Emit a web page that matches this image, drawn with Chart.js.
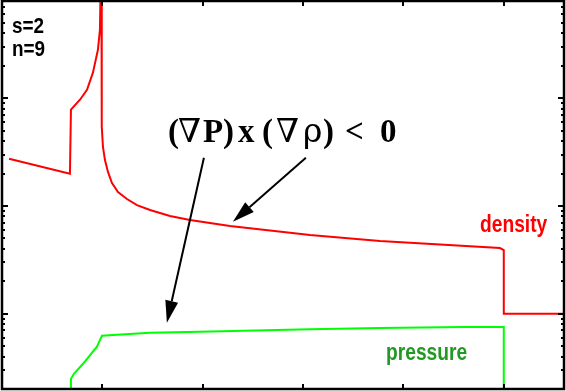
<!DOCTYPE html>
<html><head><meta charset="utf-8">
<script src="https://cdn.jsdelivr.net/npm/chart.js@4/dist/chart.umd.min.js"></script>
<style>html,body{margin:0;padding:0;background:#fff;overflow:hidden}</style>
</head><body>
<canvas id="c" width="566" height="391"></canvas>
<script>
// ---- data (x in arbitrary units, y logarithmic) ----
const densityX = [0.07, 0.677, 0.687, 0.777, 0.847, 0.906, 0.956, 0.976, 0.99, 0.994, 0.994, 1.006, 1.026, 1.056, 1.096, 1.156, 1.245, 1.345, 1.475, 1.674, 1.873, 2.272, 3.069, 3.766, 4.962, 5.0, 5.0, 5.6];
const densityY = [27.5, 19.9, 78.4, 97, 120, 173, 283, 433, 3000, 3000, 54.5, 35.3, 26.7, 20.7, 16.3, 13.5, 11.6, 10.2, 9.18, 8.07, 7.41, 6.52, 5.38, 4.73, 4.07, 3.90, 1.0, 1.0];
const pressureX = [0.687, 0.687, 0.717, 0.807, 0.946, 0.996, 1.106, 1.474, 1.972, 3.068, 3.765, 4.592, 4.99, 5.0, 5.0];
const pressureY = [0.15, 0.249, 0.277, 0.343, 0.494, 0.625, 0.634, 0.666, 0.681, 0.716, 0.737, 0.752, 0.752, 0.752, 0.15];
const xTicks = [0, 1, 2, 3, 4, 5];
const yMajorTicks = [1, 10, 100];
const yMinorTicks = [0.2,0.3,0.4,0.5,0.6,0.7,0.8,0.9, 2,3,4,5,6,7,8,9, 20,30,40,50,60,70,80,90, 200,300,400,500,600,700,800];
const arrowFrom = [[2.012, 28.1], [3.028, 28.1]];
const arrowTo   = [[1.643, 0.825], [2.301, 7.15]];

const toPts = (xs, ys) => xs.map((x, i) => ({x: x, y: ys[i]}));

const decor = {
  id: 'decor',
  afterDatasetsDraw(chart) {
    const ctx = chart.ctx, a = chart.chartArea;
    const xs = chart.scales.x, ys = chart.scales.y;
    ctx.save();
    // arrows
    ctx.strokeStyle = '#000'; ctx.fillStyle = '#000'; ctx.lineWidth = 2;
    for (let i = 0; i < arrowFrom.length; i++) {
      const x0 = xs.getPixelForValue(arrowFrom[i][0]), y0 = ys.getPixelForValue(arrowFrom[i][1]);
      const x1 = xs.getPixelForValue(arrowTo[i][0]), y1 = ys.getPixelForValue(arrowTo[i][1]);
      const ang = Math.atan2(y1 - y0, x1 - x0), L = 22, W = 6.5;
      const bx = x1 - L * Math.cos(ang), by = y1 - L * Math.sin(ang);
      ctx.beginPath(); ctx.moveTo(x0, y0); ctx.lineTo(bx, by); ctx.stroke();
      ctx.beginPath(); ctx.moveTo(x1, y1);
      ctx.lineTo(bx + W * Math.sin(ang), by - W * Math.cos(ang));
      ctx.lineTo(bx - W * Math.sin(ang), by + W * Math.cos(ang));
      ctx.closePath(); ctx.fill();
    }
    // frame
    ctx.lineWidth = 2.5; ctx.strokeStyle = '#000';
    ctx.strokeRect(a.left, a.top, a.right - a.left, a.bottom - a.top);
    // ticks
    ctx.lineWidth = 2;
    ctx.beginPath();
    xTicks.forEach(v => {
      const p = Math.round(xs.getPixelForValue(v));
      ctx.moveTo(p, a.bottom); ctx.lineTo(p, a.bottom - 5);
      ctx.moveTo(p, a.top); ctx.lineTo(p, a.top + 5);
    });
    yMajorTicks.forEach(v => {
      const p = Math.round(ys.getPixelForValue(v));
      ctx.moveTo(a.left, p); ctx.lineTo(a.left + 6, p);
      ctx.moveTo(a.right, p); ctx.lineTo(a.right - 6, p);
    });
    yMinorTicks.forEach(v => {
      const p = Math.round(ys.getPixelForValue(v));
      ctx.moveTo(a.left, p); ctx.lineTo(a.left + 3, p);
      ctx.moveTo(a.right, p); ctx.lineTo(a.right - 3, p);
    });
    ctx.stroke();
    // texts
    const narrow = (t, x, y, font, color, sx) => {
      ctx.save(); ctx.translate(x, y); ctx.scale(sx, 1);
      ctx.font = font; ctx.fillStyle = color; ctx.textBaseline = 'alphabetic';
      ctx.fillText(t, 0, 0); ctx.restore();
    };
    narrow('s=2', 12, 33, 'bold 22px "Liberation Sans", Arial, sans-serif', '#000', 0.86);
    narrow('n=9', 12, 56, 'bold 22px "Liberation Sans", Arial, sans-serif', '#000', 0.86);
    narrow('density', 480, 232, 'bold 24px "Liberation Sans", Arial, sans-serif', '#ff0000', 0.8);
    narrow('pressure', 386, 360, 'bold 24px "Liberation Sans", Arial, sans-serif', '#229922', 0.8);
    const serifB = 'bold 33px "Liberation Serif", "DejaVu Serif", serif';
    const serifN = '33px "DejaVu Serif", "Liberation Serif", serif';
    const pieces = [['(',168,serifB],['\u2207',178,serifN],['P',203,serifB],[')',223,serifB],['x',238,serifB],
                    ['(',262,serifB],['\u2207',276,serifN],['\u03c1',303,serifN],[')',323,serifB],['<',345,serifB],['0',380,serifB]];
    ctx.fillStyle = '#000';
    pieces.forEach(p => { ctx.font = p[2]; ctx.fillText(p[0], p[1], 142); });
    ctx.restore();
  }
};

new Chart(document.getElementById('c'), {
  type: 'scatter',
  data: {
    datasets: [
      {label: 'density', data: toPts(densityX, densityY), showLine: true, borderColor: '#ff0000', borderWidth: 2, pointRadius: 0, tension: 0, clip: 0},
      {label: 'pressure', data: toPts(pressureX, pressureY), showLine: true, borderColor: '#00ff00', borderWidth: 2, pointRadius: 0, tension: 0, clip: 0}
    ]
  },
  options: {
    responsive: false, animation: false, devicePixelRatio: 1,
    layout: {padding: {left: 2, right: 2, top: 1, bottom: 2}},
    plugins: {legend: {display: false}, tooltip: {enabled: false}},
    scales: {
      x: {type: 'linear', min: 0, max: 5.6, display: false},
      y: {type: 'logarithmic', min: 0.2, max: 800, display: false}
    }
  },
  plugins: [decor]
});
</script>
</body></html>
